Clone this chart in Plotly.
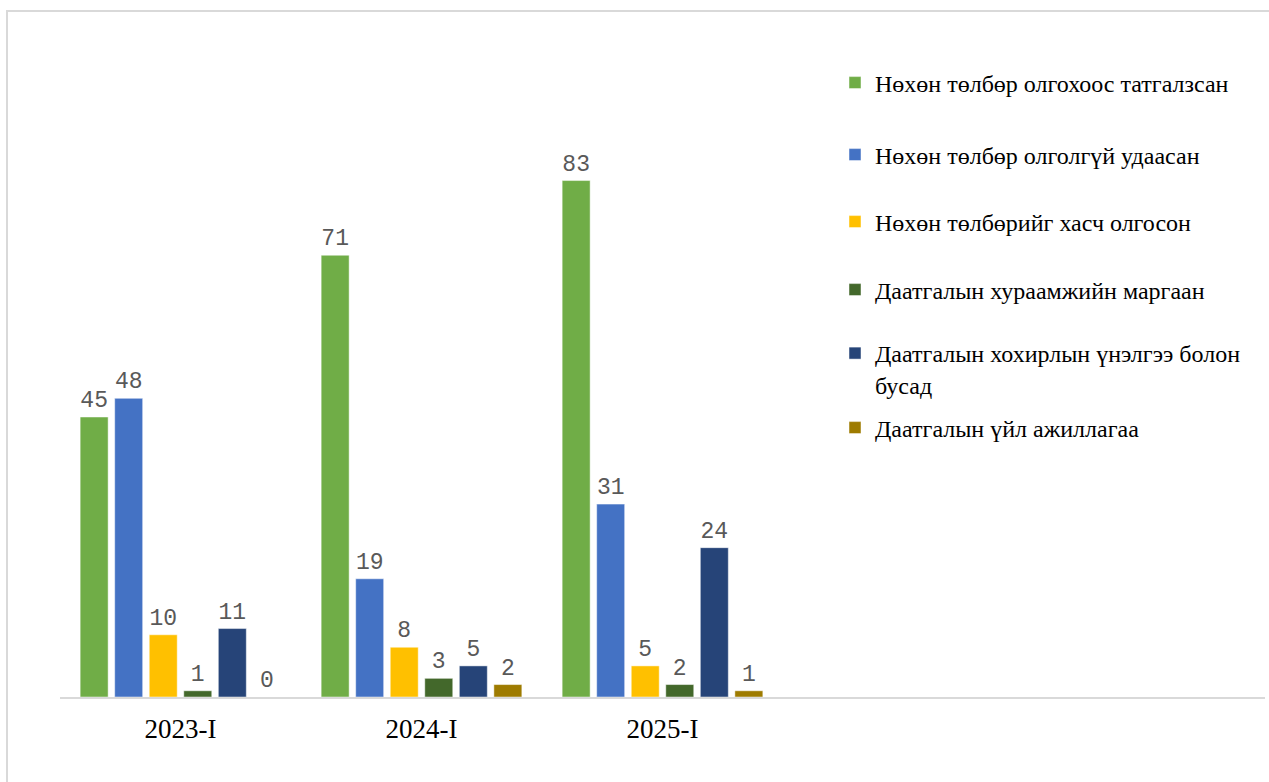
import plotly.graph_objects as go

categories = ["2023-I", "2024-I", "2025-I"]
series_names = [
    "Нөхөн төлбөр олгохоос татгалзсан",
    "Нөхөн төлбөр олголгүй удаасан",
    "Нөхөн төлбөрийг хасч олгосон",
    "Даатгалын хураамжийн маргаан",
    "Даатгалын хохирлын үнэлгээ болон<br>бусад",
    "Даатгалын үйл ажиллагаа",
]
values = [
    [45, 71, 83],
    [48, 19, 31],
    [10, 8, 5],
    [1, 3, 2],
    [11, 5, 24],
    [0, 2, 1],
]
colors = ["#70AD47", "#4472C4", "#FFC000", "#43682B", "#264478", "#9E7B00"]

W, H = 1269, 782
PX0, PX1, PY0, PY1 = 60, 1265, 137, 697
L, R, T, B = PX0, W - PX1, PY0, H - PY1
pw, ph = PX1 - PX0, PY1 - PY0


def px(x):
    return (x - PX0) / pw


def py(y):
    return (PY1 - y) / ph


SERIF = "Liberation Serif, Times New Roman, serif"
MONO = "Liberation Mono, Courier New, monospace"

# legend entry centre rows (page pixels)
legend_rows = [83, 155, 222, 290, 369, 428]

fig = go.Figure()
xpos = list(range(len(categories)))
for i, (name, vals) in enumerate(zip(series_names, values)):
    lg = "legend" if i == 0 else f"legend{i + 1}"
    fig.add_trace(go.Bar(
        x=xpos, y=vals, name=name, legend=lg,
        marker=dict(color=colors[i], line=dict(color="rgba(255,255,255,0.6)", width=0.8)),
        text=[str(v) for v in vals], textposition="outside",
        textfont=dict(family=MONO, size=23, color="#595959"),
        cliponaxis=False, hoverinfo="skip",
    ))

layout_legends = {}
for i, yrow in enumerate(legend_rows):
    key = "legend" if i == 0 else f"legend{i + 1}"
    layout_legends[key] = dict(
        x=px(835), y=py(yrow), xanchor="left", yanchor="middle",
        font=dict(family=SERIF, size=24, color="#000000"),
        bgcolor="rgba(0,0,0,0)", valign="top",
    )

fig.update_layout(
    width=W, height=H,
    margin=dict(l=L, r=R, t=T, b=B),
    paper_bgcolor="white", plot_bgcolor="white",
    barmode="group", bargap=0.14, bargroupgap=0.19,
    showlegend=True,
    xaxis=dict(
        range=[-0.5, 4.5], tickmode="array", tickvals=xpos, ticktext=categories,
        showline=True, linecolor="#D9D9D9", linewidth=2, ticks="", showgrid=False,
        zeroline=False, ticklabelstandoff=7,
        tickfont=dict(family=SERIF, size=27, color="#000000"),
    ),
    yaxis=dict(range=[0, 90], visible=False, showgrid=False, zeroline=False),
    shapes=[dict(
        type="rect", xref="paper", yref="paper",
        x0=px(7), x1=px(1285),
        y0=py(800), y1=py(11),
        line=dict(color="#D9D9D9", width=2), fillcolor="rgba(0,0,0,0)", layer="below",
    )],
    **layout_legends,
)

fig.write_html("out.html", config={"displayModeBar": False},
               post_script="document.body.style.margin='0';")
